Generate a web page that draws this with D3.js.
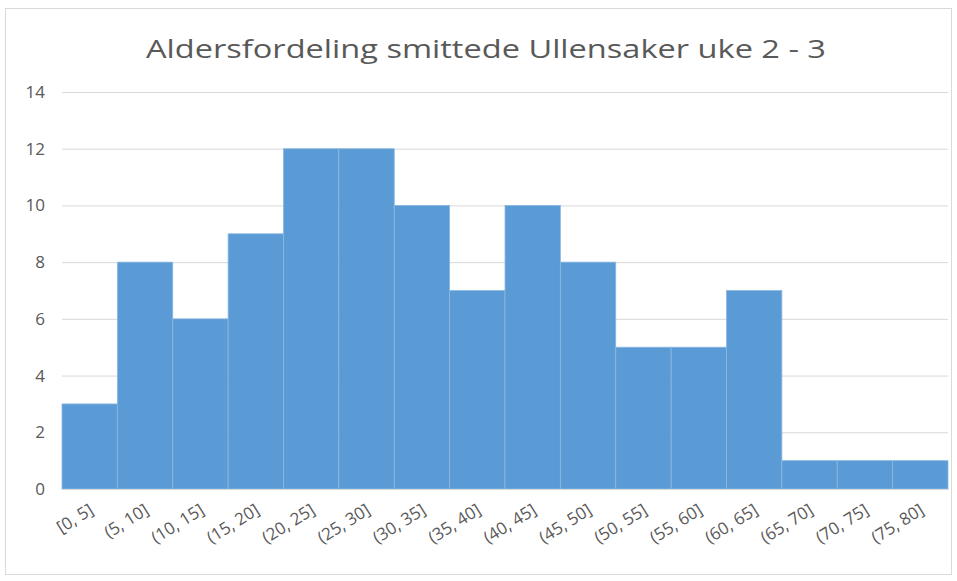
<!DOCTYPE html>
<html><head><meta charset="utf-8">
<script src="https://cdn.jsdelivr.net/npm/d3@7"></script>
<style>body{margin:0;background:#fff;} svg{display:block;}</style>
</head><body>
<script>
const categories = ["[0, 5]","(5, 10]","(10, 15]","(15, 20]","(20, 25]","(25, 30]","(30, 35]","(35, 40]","(40, 45]","(45, 50]","(50, 55]","(55, 60]","(60, 65]","(65, 70]","(70, 75]","(75, 80]"];
const counts = [3,8,6,9,12,12,10,7,10,8,5,5,7,1,1,1];
const yTicks = [0,2,4,6,8,10,12,14];
const title = "Aldersfordeling smittede Ullensaker uke 2 - 3";

const W = 957, H = 581;
const m = {left: 62, right: 9, top: 92, bottom: 92};
const svg = d3.select("body").append("svg").attr("width", W).attr("height", H);
svg.append("rect").attr("x",5.5).attr("y",8.5).attr("width",946).attr("height",566)
  .attr("fill","#fff").attr("stroke","#d9d9d9");

svg.append("text").attr("x", 486).attr("y", 58).attr("text-anchor","middle")
  .attr("font-family","Open Sans, sans-serif").attr("font-size",26).attr("fill","#595959")
  .attr("textLength", 680).attr("lengthAdjust","spacingAndGlyphs")
  .text(title);

const x = d3.scaleBand().domain(categories).range([m.left, W - m.right]).padding(0);
const y = d3.scaleLinear().domain([0,14]).range([H - m.bottom, m.top]);

const gy = svg.append("g").attr("transform",`translate(${m.left},0)`)
  .call(d3.axisLeft(y).tickValues(yTicks).tickSize(-(W - m.right - m.left)).tickPadding(17));
gy.select(".domain").remove();
gy.selectAll(".tick line").attr("stroke","#d9d9d9");
gy.selectAll(".tick text").style("font-family","Open Sans, sans-serif").style("font-size","17px").attr("fill","#595959");

svg.append("g").selectAll("rect").data(counts).join("rect")
  .attr("x",(d,i)=>x(categories[i])).attr("width",x.bandwidth())
  .attr("y",d=>y(d)).attr("height",d=>y(0)-y(d))
  .attr("fill","#5b9bd5").attr("stroke","#8ab8e3").attr("stroke-width",0.8);

const gx = svg.append("g").attr("transform",`translate(0,${y(0)})`)
  .call(d3.axisBottom(x).tickSize(0).tickPadding(0));
gx.select(".domain").attr("stroke","#d9d9d9");
gx.selectAll(".tick text")
  .style("font-family","Open Sans, sans-serif").style("font-size","17px").attr("fill","#595959")
  .attr("text-anchor","end").attr("dy",0)
  .attr("transform","translate(5,24) rotate(-32)");
</script>
</body></html>
